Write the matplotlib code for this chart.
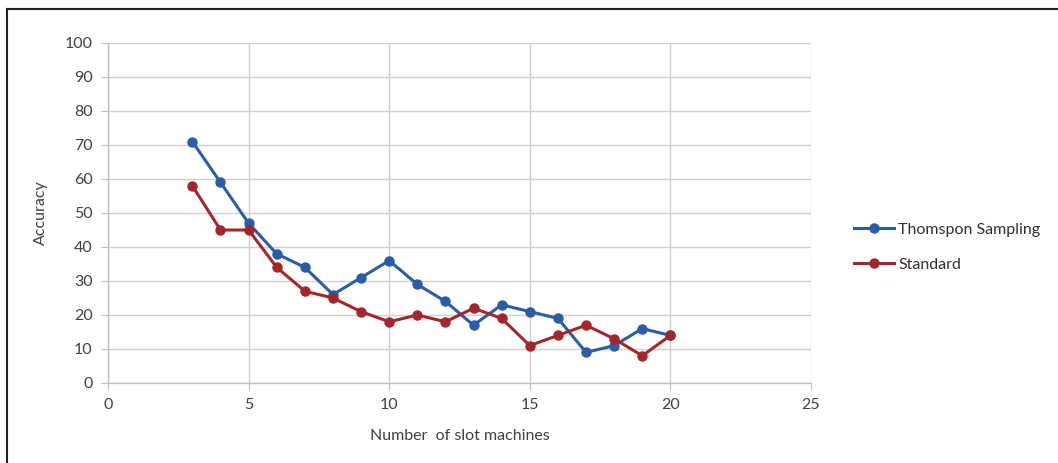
import matplotlib.pyplot as plt
from matplotlib.lines import Line2D

machines = [3, 4, 5, 6, 7, 8, 9, 10, 11, 12, 13, 14, 15, 16, 17, 18, 19, 20]
thompson = [71, 59, 47, 38, 34, 26, 31, 36, 29, 24, 17, 23, 21, 19, 9, 11, 16, 14]
standard = [58, 45, 45, 34, 27, 25, 21, 18, 20, 18, 22, 19, 11, 14, 17, 13, 8, 14]

plt.rcParams['font.family'] = ['Lato', 'DejaVu Sans']

fig = plt.figure(figsize=(10.58, 4.63), dpi=100)
ax = fig.add_axes([108 / 1058, 1 - 383 / 463, (811 - 108) / 1058, (383 - 43) / 463])

blue = '#2b5ca6'
red = '#a3272a'
ax.plot(machines, thompson, '-o', color=blue, lw=2.2, ms=6.5, label='Thomspon Sampling')
ax.plot(machines, standard, '-o', color=red, lw=2.2, ms=6.5, label='Standard')

ax.set_xlim(0, 25)
ax.set_ylim(0, 100)
ax.set_xticks(range(0, 26, 5))
ax.set_yticks(range(0, 101, 10))
ax.grid(True, color='#d0d0d0', lw=1)
ax.set_axisbelow(True)
for s in ['top', 'right']:
    ax.spines[s].set_visible(False)
for s in ['left', 'bottom']:
    ax.spines[s].set_color('#bfbfbf')
    ax.spines[s].set_linewidth(1)
ax.tick_params(axis='both', direction='out', length=5, color='#bfbfbf',
               labelsize=11.5, labelcolor='#404040', pad=6)

ax.set_xlabel('Number  of slot machines', fontsize=11.5, color='#404040', labelpad=12)
ax.set_ylabel('Accuracy', fontsize=11.5, color='#404040', labelpad=12)

fig.legend(loc='center left', bbox_to_anchor=(840 / 1058, 1 - 247 / 463),
           frameon=False, fontsize=11.5, handlelength=2.5, labelspacing=1.3,
           handletextpad=0.25, labelcolor='#303030')

# outer frame (top and left edges visible in reference)
fig.add_artist(Line2D([7 / 1058, 1], [1 - 9 / 463, 1 - 9 / 463], color='#222222', lw=1.5,
                      transform=fig.transFigure))
fig.add_artist(Line2D([7 / 1058, 7 / 1058], [0, 1 - 9 / 463], color='#222222', lw=1.5,
                      transform=fig.transFigure))

fig.savefig('out.png', dpi=100)
